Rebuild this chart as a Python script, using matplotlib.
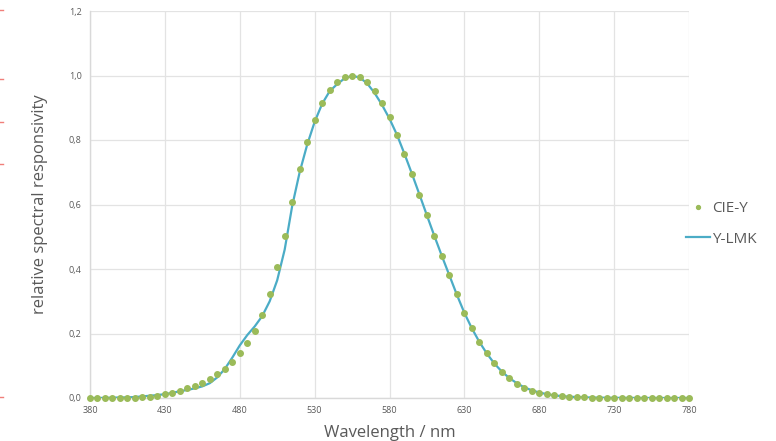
import matplotlib.pyplot as plt
from matplotlib.lines import Line2D

# wavelengths in nm, 5 nm steps
wl = list(range(380, 785, 5))

cie_y = [0.000039, 0.000064, 0.00012, 0.000217, 0.000396, 0.00064, 0.00121, 0.00218,
         0.004, 0.0073, 0.0116, 0.01684, 0.023, 0.0298, 0.038, 0.048, 0.06, 0.0739,
         0.09098, 0.1126, 0.13902, 0.1693, 0.20802, 0.2586, 0.323, 0.4073, 0.503,
         0.6082, 0.71, 0.7932, 0.862, 0.91485, 0.954, 0.9803, 0.99495, 1.0, 0.995,
         0.9786, 0.952, 0.9154, 0.87, 0.8163, 0.757, 0.6949, 0.631, 0.5668, 0.503,
         0.4412, 0.381, 0.321, 0.265, 0.217, 0.175, 0.1382, 0.107, 0.0816, 0.061,
         0.04458, 0.032, 0.0232, 0.017, 0.01192, 0.00821, 0.005723, 0.004102, 0.002929,
         0.002091, 0.001484, 0.001047, 0.00074, 0.00052, 0.000361, 0.000249, 0.000172,
         0.00012, 0.0000848, 0.00006, 0.0000424, 0.00003, 0.0000212, 0.000015]

y_lmk = [0.0, 0.0, 0.0005, 0.001, 0.0015, 0.002, 0.003, 0.005, 0.007, 0.009,
         0.012, 0.016, 0.021, 0.025, 0.030, 0.036, 0.046, 0.064, 0.090, 0.125,
         0.163, 0.195, 0.222, 0.254, 0.300, 0.365, 0.46, 0.595, 0.70, 0.785,
         0.856, 0.912, 0.951, 0.973, 0.991, 0.999, 0.994, 0.976, 0.946, 0.909,
         0.866, 0.816, 0.757, 0.695, 0.631, 0.566, 0.502, 0.440, 0.380, 0.320,
         0.264, 0.216, 0.174, 0.138, 0.107, 0.082, 0.062, 0.046, 0.033, 0.024,
         0.017, 0.012, 0.008, 0.006, 0.004, 0.003, 0.002, 0.0015, 0.001, 0.0008,
         0.0005, 0.0004, 0.0003, 0.0002, 0.0001, 0.0001, 0.0, 0.0, 0.0, 0.0, 0.0]

xticks = list(range(380, 781, 50))
yticks = [0.0, 0.2, 0.4, 0.6, 0.8, 1.0, 1.2]
ytick_labels = ["0,0", "0,2", "0,4", "0,6", "0,8", "1,0", "1,2"]

plt.rcParams['font.family'] = ['Open Sans', 'DejaVu Sans']
txt = '#595959'
grid = '#e3e3e3'

fig = plt.figure(figsize=(7.76, 4.41), dpi=100)
ax = fig.add_axes([90/776, 1 - 398/441, 599/776, 387/441])

ax.plot(wl, y_lmk, color='#4bacc6', lw=1.6, label='Y-LMK', zorder=3)
ax.plot(wl, cie_y, linestyle='none', marker='o', ms=4, color='#9bbb59',
        label='CIE-Y', zorder=4, clip_on=False)

ax.set_xlim(380, 780)
ax.set_ylim(0, 1.2)
ax.set_xticks(xticks)
ax.set_yticks(yticks)
ax.set_yticklabels(ytick_labels)
ax.tick_params(length=0, labelsize=6.5, labelcolor=txt, pad=6)
ax.grid(True, color=grid, lw=0.9)
ax.set_axisbelow(True)
for s in ['top', 'right']:
    ax.spines[s].set_visible(False)
for s in ['left', 'bottom']:
    ax.spines[s].set_color('#d9d9d9')
    ax.spines[s].set_linewidth(1.0)

ax.set_xlabel('Wavelength / nm', fontsize=12, color=txt, labelpad=7)
ax.set_ylabel('relative spectral responsivity', fontsize=12, color=txt, labelpad=15)

handles, labels = ax.get_legend_handles_labels()
ax.legend(handles[::-1], labels[::-1], loc='center left', bbox_to_anchor=(672/776, 1 - 224/441),
          bbox_transform=fig.transFigure, frameon=False, fontsize=11, labelcolor=txt,
          handlelength=1.6, handletextpad=0.1, labelspacing=1.0, markerscale=0.7)

# small red marks at the left edge of the screenshot
for yy in [10, 79, 122, 164, 397]:
    fig.add_artist(Line2D([0, 3/776], [1 - yy/441, 1 - yy/441], color='#f07f7a', lw=1))

fig.savefig('out.png', dpi=100)
